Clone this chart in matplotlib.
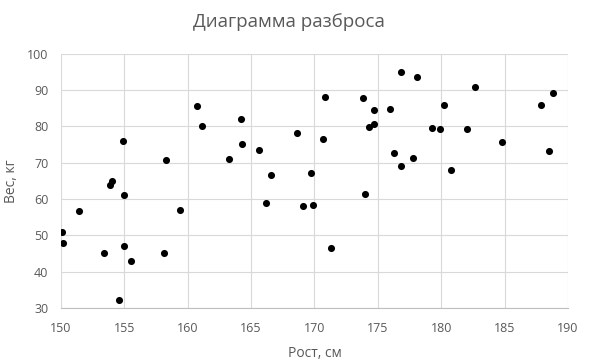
import matplotlib
matplotlib.use("Agg")
import matplotlib.pyplot as plt

height_cm = [150.1, 150.2, 151.4, 153.4, 153.9, 154.0, 154.9, 155.0, 155.0, 155.5,
             154.6, 158.3, 158.1, 159.4, 160.7, 161.1, 164.2, 164.25, 163.3, 165.6,
             166.6, 166.2, 168.6, 169.7, 169.1, 169.9, 170.8, 170.65, 171.3, 173.8,
             174.7, 174.3, 174.7, 174.0, 176.0, 176.8, 178.1, 176.3, 176.8, 177.8,
             182.7, 180.2, 179.3, 179.9, 182.0, 180.8, 184.8, 187.9, 188.8, 188.5]
weight_kg = [51.0, 48.0, 56.8, 45.2, 64.0, 65.0, 76.0, 61.0, 47.0, 43.0,
             32.2, 70.8, 45.2, 57.0, 85.7, 80.2, 82.0, 75.3, 71.0, 73.5,
             66.5, 58.9, 78.2, 67.2, 58.1, 58.3, 88.0, 76.6, 46.4, 87.8,
             84.5, 79.9, 80.7, 61.4, 84.9, 95.0, 93.7, 72.8, 69.0, 71.3,
             90.8, 86.0, 79.7, 79.2, 79.2, 68.0, 75.8, 85.8, 89.3, 73.3]

title = "Диаграмма разброса"
xlabel = "Рост, см"
ylabel = "Вес, кг"
xticks = [150, 155, 160, 165, 170, 175, 180, 185, 190]
yticks = [30, 40, 50, 60, 70, 80, 90, 100]

plt.rcParams['font.family'] = ['Open Sans', 'DejaVu Sans']
grey = '#595959'

fig = plt.figure(figsize=(5.91, 3.64), dpi=100)
ax = fig.add_axes([0.103, 0.154, 0.858, 0.698])
ax.scatter(height_cm, weight_kg, s=26, color='black', zorder=3, linewidths=0)
ax.set_xlim(150, 190)
ax.set_ylim(30, 100)
ax.set_xticks(xticks)
ax.set_yticks(yticks)
ax.grid(True, color='#d9d9d9', linewidth=0.8)
ax.set_axisbelow(True)
for s in ['top', 'right', 'left']:
    ax.spines[s].set_visible(False)
ax.spines['bottom'].set_color('#bfbfbf')
ax.tick_params(axis='x', length=0, labelsize=9, colors=grey, pad=10)
ax.tick_params(axis='y', length=0, labelsize=9, colors=grey, pad=9)
ax.set_xlabel(xlabel, fontsize=10, color=grey, labelpad=8)
ax.set_ylabel(ylabel, fontsize=10, color=grey, labelpad=6)
fig.text(0.489, 0.94, title, ha='center', va='center', fontsize=13.5, color=grey)
fig.savefig('out.png', dpi=100)
